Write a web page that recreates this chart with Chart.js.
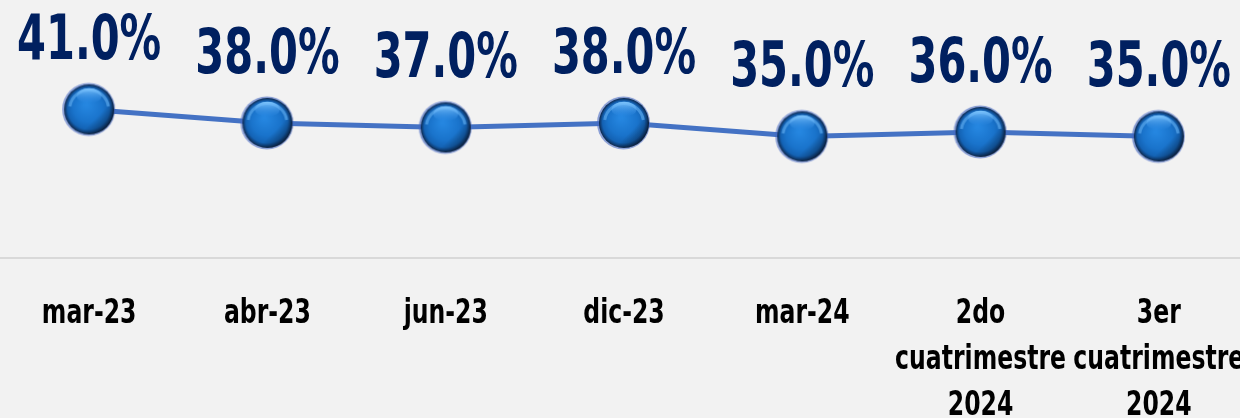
<!DOCTYPE html>
<html><head><meta charset="utf-8">
<script src="https://cdn.jsdelivr.net/npm/chart.js@4"></script>
<style>
html,body{margin:0;padding:0;background:#f2f2f2;overflow:hidden;width:1240px;height:418px;}
canvas{display:block;}
</style></head>
<body>
<canvas id="c" width="1248" height="418"></canvas>
<script>
const categories = ["mar-23","abr-23","jun-23","dic-23","mar-24",["2do","cuatrimestre","2024"],["3er","cuatrimestre","2024"]];
const values = [41,38,37,38,35,36,35];
const valueLabels = ["41.0%","38.0%","37.0%","38.0%","35.0%","36.0%","35.0%"];

const FONT = '"DejaVu Sans Condensed","Liberation Sans Narrow",sans-serif';
const SQUEEZE_VAL = 0.745;
const SQUEEZE_CAT = 0.77;

function makeSphere(r){
  const pad=4, s=2*(r+pad);
  const cv=document.createElement('canvas'); cv.width=s; cv.height=s;
  const g=cv.getContext('2d'); const c=s/2;
  g.beginPath(); g.arc(c-0.5,c,r+1.5,0,Math.PI*2); g.fillStyle='rgba(70,105,195,0.6)'; g.fill();
  let gr=g.createRadialGradient(c-3,c-5,2,c,c,r);
  gr.addColorStop(0,'#2586e0'); gr.addColorStop(0.55,'#1a74cc'); gr.addColorStop(0.82,'#1463b5'); gr.addColorStop(0.93,'#0f3f78'); gr.addColorStop(1,'#0a2240');
  g.beginPath(); g.arc(c,c,r,0,Math.PI*2); g.fillStyle=gr; g.fill();
  let gr2=g.createLinearGradient(c-r,c-r,c+r,c+r);
  gr2.addColorStop(0,'rgba(0,0,0,0)'); gr2.addColorStop(0.65,'rgba(0,0,0,0)'); gr2.addColorStop(1,'rgba(5,12,30,0.6)');
  g.beginPath(); g.arc(c,c,r,0,Math.PI*2); g.fillStyle=gr2; g.fill();
  g.save(); g.beginPath(); g.arc(c,c,r*0.78,Math.PI*1.05,Math.PI*1.95);
  g.strokeStyle='rgba(110,185,250,0.55)'; g.lineWidth=3; g.stroke(); g.restore();
  g.save(); g.beginPath(); g.ellipse(c,c-r*0.55,r*0.5,r*0.3,0,0,Math.PI*2);
  let gh=g.createLinearGradient(0,c-r*0.85,0,c-r*0.25);
  gh.addColorStop(0,'rgba(130,200,255,0.95)'); gh.addColorStop(1,'rgba(60,150,240,0)');
  g.fillStyle=gh; g.fill(); g.restore();
  return cv;
}
const sphere = makeSphere(25);

function squeezedText(ctx, text, x, y, k){
  ctx.save(); ctx.translate(x,y); ctx.scale(k,1); ctx.fillText(text,0,0); ctx.restore();
}

const labelPlugin = {
  id:'textLabels',
  afterDatasetsDraw(chart){
    const ctx=chart.ctx; const meta=chart.getDatasetMeta(0);
    ctx.save(); ctx.font='bold 62px '+FONT; ctx.fillStyle='#002060';
    ctx.textAlign='center'; ctx.textBaseline='alphabetic';
    meta.data.forEach((p,i)=>{ squeezedText(ctx, valueLabels[i], p.x, p.y-50, SQUEEZE_VAL); });
    const xs=chart.scales.x;
    ctx.font='bold 34px '+FONT; ctx.fillStyle='#000';
    categories.forEach((lab,i)=>{
      const lines=Array.isArray(lab)?lab:[lab];
      const x=xs.getPixelForValue(i);
      lines.forEach((ln,k)=>{ squeezedText(ctx, ln, x, xs.top+65+k*46, SQUEEZE_CAT); });
    });
    ctx.restore();
  }
};

new Chart(document.getElementById('c'),{
  type:'line',
  data:{labels:categories,datasets:[{
    data:values, borderColor:'#4472c4', borderWidth:5, tension:0,
    pointStyle:sphere, pointRadius:25, pointHoverRadius:25
  }]},
  options:{
    responsive:false, animation:false,
    layout:{padding:0, autoPadding:false},
    plugins:{legend:{display:false},tooltip:{enabled:false}},
    scales:{
      x:{offset:true,
        grid:{display:false,drawTicks:false},
        border:{display:true,color:'#d9d9d9',width:2},
        ticks:{display:false},
        afterFit:(s)=>{s.height=160;s.paddingLeft=0;s.paddingRight=0;}
      },
      y:{display:false,min:8,max:65.3}
    }
  },
  plugins:[labelPlugin]
});
</script>
</body></html>
